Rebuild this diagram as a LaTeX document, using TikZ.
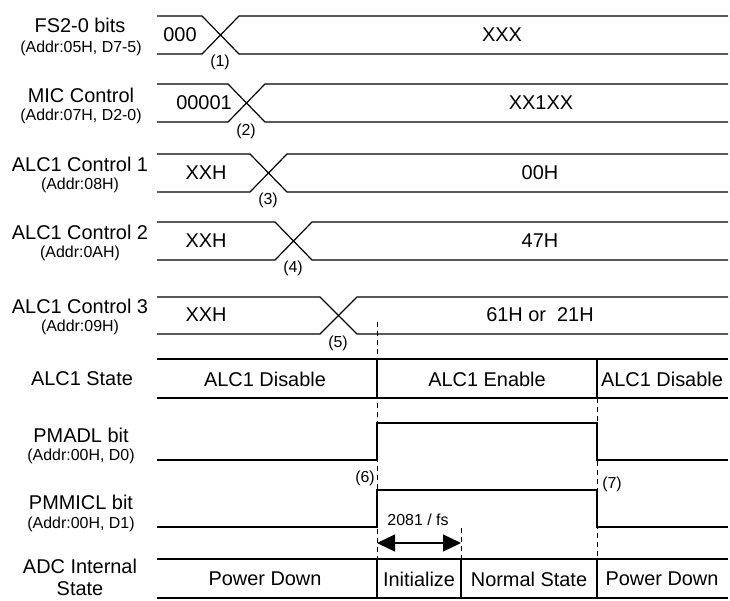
\documentclass[tikz,border=0pt]{standalone}
\usepackage{fontspec}
\setmainfont{Liberation Sans}
\usetikzlibrary{arrows.meta}
\begin{document}
\begin{tikzpicture}[x=1bp,y=-1bp,
  sig/.style={line width=1.2bp, line join=miter},
  dsh/.style={line width=1bp, dash pattern=on 5bp off 4bp},
  big/.style={font=\fontsize{20}{23}\selectfont, inner sep=0pt},
  sml/.style={font=\fontsize{16}{19}\selectfont, inner sep=0pt},
  lbl/.style={align=center, inner sep=0pt}]
\useasboundingbox (0,0) rectangle (730,601);

% ---- bus transitions: (top y, bottom y, start of crossing, end of crossing)
\newcommand{\busrow}[4]{%
  \draw[sig] (157,#1) -- (#3,#1) -- (#4,#2) -- (728,#2);
  \draw[sig] (157,#2) -- (#3,#2) -- (#4,#1) -- (728,#1);}
\busrow{16}{54}{202}{239}
\busrow{84}{122}{228}{265}
\busrow{154}{192}{250}{287}
\busrow{222}{260}{275}{312}
\busrow{297}{334}{320}{357}

% ---- left labels
\node[big] (l1) at (80,25) {FS2-0 bits};
\node[sml] (l1a) at (81,48) {(Addr:05H, D7-5)};
\node[big] (l2) at (81,95) {MIC Control};
\node[sml] (l2a) at (81,116) {(Addr:07H, D2-0)};
\node[big] (l3) at (80,164) {ALC1 Control 1};
\node[sml] (l3a) at (80,185) {(Addr:08H)};
\node[big] (l4) at (80,232) {ALC1 Control 2};
\node[sml] (l4a) at (80,253) {(Addr:0AH)};
\node[big] (l5) at (80,306) {ALC1 Control 3};
\node[sml] (l5a) at (80,327) {(Addr:09H)};
\node[big] (l6) at (82,379) {ALC1 State};
\node[big] (l7) at (81,435) {PMADL bit};
\node[sml] (l7a) at (81,456) {(Addr:00H, D0)};
\node[big] (l8) at (81,502) {PMMICL bit};
\node[sml] (l8a) at (81,524) {(Addr:00H, D1)};
\node[big] (l9) at (80,566) {ADC Internal};
\node[big] (l9a) at (80,589) {State};

% ---- bus values
\node[big] (v1a) at (180,35) {000};
\node[big] (v1b) at (502,35) {XXX};
\node[big] (v2a) at (204,103) {00001};
\node[big] (v2b) at (541,103) {XX1XX};
\node[big] (v3a) at (206,173) {XXH};
\node[big] (v3b) at (540,173) {00H};
\node[big] (v4a) at (206,241) {XXH};
\node[big] (v4b) at (540,241) {47H};
\node[big] (v5a) at (206,315) {XXH};
\node[big] (v5b) at (540,315) {61H or \ 21H};

% ---- crossing numbers
\node[sml] (n1) at (220,62) {(1)};
\node[sml] (n2) at (246,131) {(2)};
\node[sml] (n3) at (268,200) {(3)};
\node[sml] (n4) at (293,268) {(4)};
\node[sml] (n5) at (338,343) {(5)};
\node[sml] (n6) at (365,478) {(6)};
\node[sml] (n7) at (612,484) {(7)};

% ---- dashed guide lines
\draw[dsh] (377,322) -- (377,559);
\draw[dsh] (597,398) -- (597,559);
\draw[dsh] (461,528) -- (461,559);

% ---- ALC1 state row
\draw[sig] (157,359) -- (728,359);
\draw[sig] (157,398) -- (728,398);
\draw[sig] (377,359) -- (377,398);
\draw[sig] (597,359) -- (597,398);
\node[big] (s1) at (265,379) {ALC1 Disable};
\node[big] (s2) at (487,379) {ALC1 Enable};
\node[big] (s3) at (662,379) {ALC1 Disable};

% ---- PMADL / PMMICL
\draw[sig] (157,460) -- (377,460) -- (377,423) -- (597,423) -- (597,460) -- (728,460);
\draw[sig] (157,527) -- (377,527) -- (377,490) -- (597,490) -- (597,527) -- (728,527);

% ---- 2081/fs arrow
\coordinate (a1) at (377,543);
\coordinate (a2) at (461,543);
\draw[line width=1.2bp, {Triangle[length=18bp,width=17bp]}-{Triangle[length=18bp,width=17bp]}] (a1) -- (a2);
\node[sml] (t1) at (418,520) {2081 / fs};

% ---- ADC internal state row
\draw[sig] (157,559) -- (728,559);
\draw[sig] (157,598) -- (728,598);
\draw[sig] (377,559) -- (377,598);
\draw[sig] (461,559) -- (461,598);
\draw[sig] (597,559) -- (597,598);
\node[big] (d1) at (265,579) {Power Down};
\node[big] (d2) at (419,579) {Initialize};
\node[big] (d3) at (529,579) {Normal State};
\node[big] (d4) at (662,579) {Power Down};
\end{tikzpicture}
\end{document}
